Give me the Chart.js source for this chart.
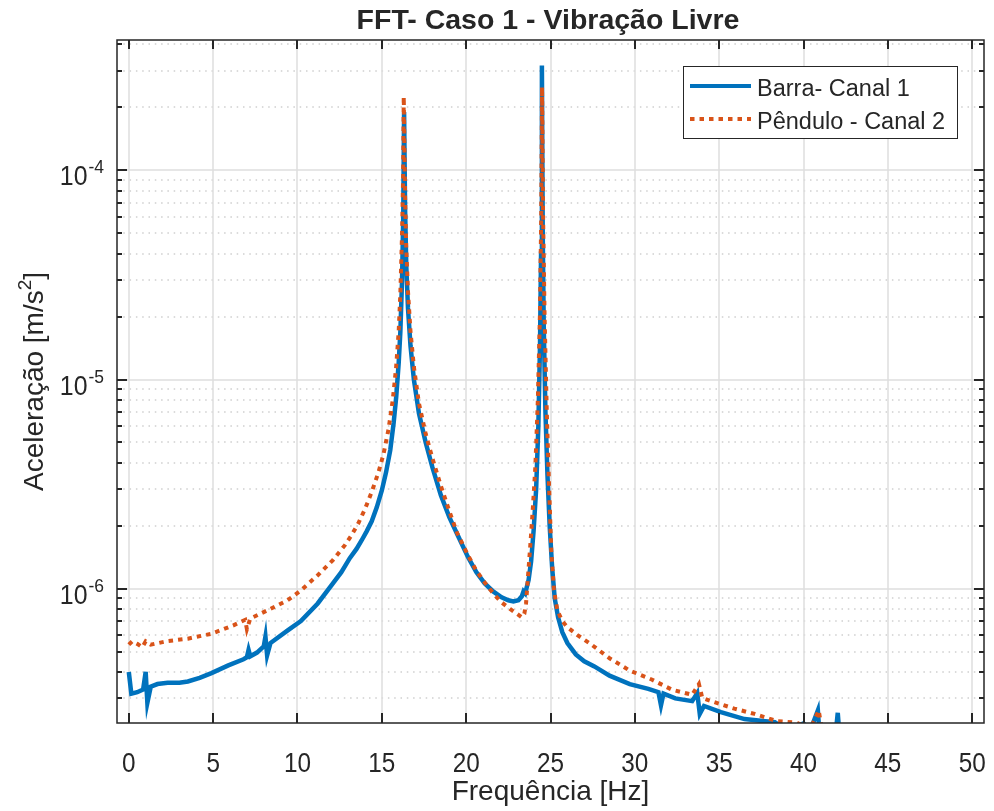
<!DOCTYPE html>
<html>
<head>
<meta charset="utf-8">
<script src="https://cdn.jsdelivr.net/npm/chart.js@4.4.0/dist/chart.umd.min.js"></script>
<style>
  html, body { margin: 0; padding: 0; background: #ffffff; }
  #wrap { width: 994px; height: 811px; position: relative; }
</style>
</head>
<body>
<div id="wrap"><canvas id="fftChart"></canvas></div>
<script>
const chartTitle = "FFT- Caso 1 - Vibração Livre";
const xTitle = "Frequência [Hz]";
const seriesLabels = ["Barra- Canal 1", "Pêndulo - Canal 2"];

const barraFreq = [
  0.0, 0.15, 0.5, 0.85, 1.0, 1.1, 1.3, 1.7, 2.3, 3.0, 3.5, 4.2, 4.9, 5.9, 6.8, 7.0, 7.1, 7.2, 7.6, 8.0,
  8.1, 8.2, 8.4, 9.4, 10.2, 11.2, 12.1, 12.6, 13.1, 13.5, 13.8, 14.1, 14.4, 14.7, 15.0, 15.25, 15.5, 15.7,
  15.85, 16.0, 16.1, 16.2, 16.27, 16.32, 16.38, 16.45, 16.55, 16.7, 16.9, 17.2, 17.6, 18.0, 18.5, 19.0,
  19.5, 20.1, 20.6, 21.1, 21.6, 22.1, 22.5, 22.8, 23.1, 23.3, 23.4, 23.5, 23.7, 23.85, 24.0, 24.15, 24.28,
  24.38, 24.44, 24.49, 24.54, 24.6, 24.7, 24.82, 24.95, 25.1, 25.25, 25.45, 25.7, 26.0, 26.5, 27.0, 27.6,
  28.5, 29.7, 30.8, 31.4, 31.55, 31.7, 32.4, 33.4, 33.7, 33.85, 34.1, 35.1, 36.5, 37.6, 38.3, 38.8, 39.6,
  40.0, 40.4, 40.85, 40.95, 41.9, 42.03, 42.15, 43.0
];
const barraAmp = [
  4.0e-7, 3.15e-7, 3.2e-7, 3.3e-7, 4.0e-7, 2.85e-7, 3.4e-7, 3.5e-7, 3.55e-7, 3.55e-7, 3.6e-7, 3.75e-7, 3.95e-7,
  4.3e-7, 4.6e-7, 4.7e-7, 5.1e-7, 4.75e-7, 4.95e-7, 5.3e-7, 5.9e-7, 4.8e-7, 5.5e-7, 6.3e-7, 7.0e-7, 8.5e-7,
  1.06e-6, 1.2e-6, 1.4e-6, 1.55e-6, 1.7e-6, 1.88e-6, 2.1e-6, 2.45e-6, 2.95e-6, 3.6e-6, 4.6e-6, 6.2e-6,
  8.2e-6, 1.2e-5, 1.7e-5, 3.0e-5, 6.0e-5, 1.9e-4, 6.5e-5, 3.5e-5, 2.2e-5, 1.45e-5, 1.0e-5, 6.9e-6, 5.0e-6,
  3.8e-6, 2.8e-6, 2.2e-6, 1.8e-6, 1.42e-6, 1.2e-6, 1.06e-6, 9.7e-7, 9.1e-7, 8.8e-7, 8.7e-7, 8.8e-7, 9.2e-7,
  9.7e-7, 9.5e-7, 1.1e-6, 1.35e-6, 1.9e-6, 3.0e-6, 6.0e-6, 1.5e-5, 4.0e-5, 3.17e-4, 5.0e-5, 1.8e-5, 7.0e-6,
  3.5e-6, 2.0e-6, 1.25e-6, 9.0e-7, 7.3e-7, 6.2e-7, 5.5e-7, 4.85e-7, 4.5e-7, 4.25e-7, 3.84e-7, 3.5e-7,
  3.32e-7, 3.2e-7, 2.77e-7, 3.15e-7, 2.99e-7, 2.9e-7, 3.17e-7, 2.52e-7, 2.75e-7, 2.57e-7, 2.38e-7, 2.33e-7,
  2.3e-7, 2.16e-7, 2.2e-7, 2.27e-7, 2.1e-7, 2.62e-7, 2.0e-7, 2.0e-7, 2.55e-7, 1.9e-7, 1.8e-7
];

const penduloFreq = [
  0.0, 0.2, 0.5, 0.8, 1.0, 1.3, 2.3, 3.5, 4.9, 6.2, 6.9, 7.0, 7.2, 8.2, 9.4, 10.2, 11.2, 12.1, 12.8, 13.2,
  13.6, 14.0, 14.4, 14.8, 15.1, 15.4, 15.65, 15.85, 16.0, 16.1, 16.2, 16.26, 16.3, 16.38, 16.45, 16.55, 16.7,
  16.9, 17.2, 17.6, 18.0, 18.5, 19.0, 19.46, 20.1, 20.6, 21.1, 21.6, 22.1, 22.6, 23.0, 23.3, 23.45, 23.55,
  23.65, 23.8, 23.95, 24.1, 24.25, 24.37, 24.45, 24.5, 24.56, 24.65, 24.78, 24.92, 25.05, 25.2, 25.4, 25.7,
  26.0, 26.6, 27.3, 28.5, 29.7, 31.0, 32.2, 33.4, 33.8, 34.0, 34.7, 35.9, 37.1, 38.4, 39.6, 40.4, 40.9, 41.1,
  42.2
];
const penduloAmp = [
  5.4e-7, 5.6e-7, 5.45e-7, 5.25e-7, 5.6e-7, 5.4e-7, 5.62e-7, 5.77e-7, 6.09e-7, 6.68e-7, 7.1e-7, 6.4e-7, 7.2e-7,
  7.87e-7, 8.79e-7, 9.81e-7, 1.16e-6, 1.37e-6, 1.61e-6, 1.8e-6, 2.05e-6, 2.4e-6, 2.9e-6, 3.6e-6, 4.4e-6,
  5.8e-6, 8.0e-6, 1.15e-5, 1.7e-5, 2.6e-5, 5.0e-5, 9.0e-5, 2.25e-4, 7.5e-5, 4.2e-5, 2.65e-5, 1.7e-5, 1.15e-5,
  7.7e-6, 5.5e-6, 4.2e-6, 3.1e-6, 2.35e-6, 1.85e-6, 1.45e-6, 1.22e-6, 1.07e-6, 9.5e-7, 8.6e-7, 8.0e-7, 7.6e-7,
  7.3e-7, 7.6e-7, 8.5e-7, 1.1e-6, 1.6e-6, 2.4e-6, 3.8e-6, 8.0e-6, 2.0e-5, 6.0e-5, 2.5e-4, 6.0e-5, 2.0e-5,
  7.0e-6, 3.0e-6, 1.5e-6, 1.0e-6, 7.9e-7, 7.0e-7, 6.55e-7, 6.0e-7, 5.5e-7, 4.65e-7, 4.06e-7, 3.68e-7, 3.29e-7,
  3.11e-7, 3.5e-7, 3.0e-7, 2.87e-7, 2.67e-7, 2.52e-7, 2.33e-7, 2.29e-7, 2.13e-7, 2.62e-7, 2.1e-7, 2.1e-7
];

const xTicks = [0, 5, 10, 15, 20, 25, 30, 35, 40, 45, 50];
const yMajorTicks = [1e-6, 1e-5, 1e-4];
const yTickExponents = ["-6", "-5", "-4"];
const yMinorSteps = [2, 3, 4, 5, 6, 7, 8, 9];
const yDecades = [1e-7, 1e-6, 1e-5, 1e-4];

const xMin = -0.7;
const xMax = 50.7;
const yMin = 2.28e-7;
const yMax = 4.2e-4;

const axisColor = "#262626";
const blue = "#0072BD";
const orange = "#D95319";
const font = "'Liberation Sans', Arial, sans-serif";

function toPoints(freqs, amps) {
  return freqs.map((f, i) => ({ x: f, y: amps[i] }));
}

function minorTickValues() {
  const values = [];
  yDecades.forEach((d) => {
    yMinorSteps.forEach((m) => {
      const v = d * m;
      if (v >= yMin && v <= yMax) values.push(v);
    });
  });
  return values;
}

function drawNarrowText(ctx, text, x, y, align, squeeze) {
  ctx.save();
  ctx.translate(x, y);
  ctx.scale(squeeze, 1);
  ctx.textAlign = align;
  ctx.fillText(text, 0, 0);
  ctx.restore();
}

const matlabAxes = {
  id: "matlabAxes",
  beforeDatasetsDraw(chart) {
    const { ctx, chartArea: a, scales } = chart;
    const x = scales.x;
    const y = scales.y;
    ctx.save();

    // dotted minor grid
    ctx.strokeStyle = "#cfcfcf";
    ctx.lineWidth = 1.3;
    ctx.setLineDash([1.5, 4.8]);
    minorTickValues().forEach((v) => {
      const py = Math.round(y.getPixelForValue(v));
      ctx.beginPath();
      ctx.moveTo(a.left, py);
      ctx.lineTo(a.right, py);
      ctx.stroke();
    });

    // solid major grid
    ctx.setLineDash([]);
    ctx.strokeStyle = "#dedede";
    ctx.lineWidth = 1.5;
    yMajorTicks.forEach((v) => {
      const py = Math.round(y.getPixelForValue(v));
      ctx.beginPath();
      ctx.moveTo(a.left, py);
      ctx.lineTo(a.right, py);
      ctx.stroke();
    });
    xTicks.forEach((v) => {
      const px = Math.round(x.getPixelForValue(v));
      ctx.beginPath();
      ctx.moveTo(px, a.top);
      ctx.lineTo(px, a.bottom);
      ctx.stroke();
    });
    ctx.restore();
  },
  afterDatasetsDraw(chart) {
    const { ctx, chartArea: a, scales } = chart;
    const x = scales.x;
    const y = scales.y;
    ctx.save();

    // box
    ctx.strokeStyle = axisColor;
    ctx.lineWidth = 1.5;
    ctx.strokeRect(a.left, a.top, a.right - a.left, a.bottom - a.top);

    // x ticks (bottom and top, inward)
    ctx.lineWidth = 2;
    xTicks.forEach((v) => {
      const px = Math.round(x.getPixelForValue(v));
      ctx.beginPath();
      ctx.moveTo(px, a.bottom);
      ctx.lineTo(px, a.bottom - 10);
      ctx.moveTo(px, a.top);
      ctx.lineTo(px, a.top + 9);
      ctx.stroke();
    });

    // y ticks (left and right, inward)
    yMajorTicks.forEach((v) => {
      const py = Math.round(y.getPixelForValue(v));
      ctx.beginPath();
      ctx.moveTo(a.left, py);
      ctx.lineTo(a.left + 10, py);
      ctx.moveTo(a.right, py);
      ctx.lineTo(a.right - 10, py);
      ctx.stroke();
    });
    minorTickValues().forEach((v) => {
      const py = Math.round(y.getPixelForValue(v));
      ctx.beginPath();
      ctx.moveTo(a.left, py);
      ctx.lineTo(a.left + 5, py);
      ctx.moveTo(a.right, py);
      ctx.lineTo(a.right - 5, py);
      ctx.stroke();
    });

    ctx.fillStyle = axisColor;
    ctx.textBaseline = "alphabetic";

    // x tick labels
    ctx.font = "27px " + font;
    xTicks.forEach((v) => {
      const px = x.getPixelForValue(v);
      drawNarrowText(ctx, String(v), px, a.bottom + 49, "center", 0.9);
    });

    // y tick labels 10^n
    yMajorTicks.forEach((v, i) => {
      const py = y.getPixelForValue(v);
      const expRight = a.left - 13;
      ctx.font = "19px " + font;
      ctx.textAlign = "right";
      const expWidth = ctx.measureText(yTickExponents[i]).width * 0.92;
      drawNarrowText(ctx, yTickExponents[i], expRight, py + 3, "right", 0.92);
      ctx.font = "27px " + font;
      drawNarrowText(ctx, "10", expRight - expWidth - 1, py + 15, "right", 0.92);
    });

    // x axis title
    ctx.font = "28px " + font;
    drawNarrowText(ctx, xTitle, (a.left + a.right) / 2, 800, "center", 1.0);

    // y axis title with superscript
    ctx.save();
    ctx.translate(43, (a.top + a.bottom) / 2);
    ctx.rotate(-Math.PI / 2);
    const mainPart = "Aceleração [m/s";
    ctx.font = "28px " + font;
    const w1 = ctx.measureText(mainPart).width;
    ctx.font = "19px " + font;
    const w2 = ctx.measureText("2").width;
    ctx.font = "28px " + font;
    const w3 = ctx.measureText("]").width;
    const start = -(w1 + w2 + w3) / 2;
    ctx.textAlign = "left";
    ctx.fillText(mainPart, start, 0);
    ctx.font = "19px " + font;
    ctx.fillText("2", start + w1, -12);
    ctx.font = "28px " + font;
    ctx.fillText("]", start + w1 + w2, 0);
    ctx.restore();

    // title
    ctx.font = "bold 28.5px " + font;
    ctx.textAlign = "center";
    ctx.fillText(chartTitle, 548, 29);

    // legend
    const lx = 683.5, ly = 66.5, lw = 274, lh = 72;
    ctx.fillStyle = "#ffffff";
    ctx.fillRect(lx, ly, lw, lh);
    ctx.strokeStyle = axisColor;
    ctx.lineWidth = 1;
    ctx.strokeRect(lx, ly, lw, lh);
    const rows = [
      { label: seriesLabels[0], color: blue, dash: [], cy: 86 },
      { label: seriesLabels[1], color: orange, dash: [4.5, 5], cy: 119 }
    ];
    rows.forEach((r) => {
      ctx.strokeStyle = r.color;
      ctx.lineWidth = 4;
      ctx.setLineDash(r.dash);
      ctx.beginPath();
      ctx.moveTo(690, r.cy);
      ctx.lineTo(751, r.cy);
      ctx.stroke();
      ctx.setLineDash([]);
      ctx.fillStyle = axisColor;
      ctx.font = "23.5px " + font;
      ctx.textAlign = "left";
      ctx.fillText(r.label, 757, r.cy + 9.5);
    });

    ctx.restore();
  }
};

const ctx = document.getElementById("fftChart").getContext("2d");
const fftChart = new Chart(ctx, {
  type: "line",
  data: {
    datasets: [
      {
        label: seriesLabels[0],
        data: toPoints(barraFreq, barraAmp),
        borderColor: blue,
        borderWidth: 4.5,
        pointRadius: 0,
        tension: 0,
        fill: false,
        order: 2
      },
      {
        label: seriesLabels[1],
        data: toPoints(penduloFreq, penduloAmp),
        borderColor: orange,
        borderWidth: 4,
        borderDash: [4.5, 5],
        pointRadius: 0,
        tension: 0,
        fill: false,
        order: 1
      }
    ]
  },
  options: {
    responsive: true,
    maintainAspectRatio: false,
    animation: false,
    layout: { padding: { left: 117, top: 40, right: 10, bottom: 88 } },
    plugins: {
      legend: { display: false },
      tooltip: { enabled: false }
    },
    scales: {
      x: { type: "linear", min: xMin, max: xMax, bounds: "data", display: false },
      y: { type: "logarithmic", min: yMin, max: yMax, bounds: "data", display: false }
    }
  },
  plugins: [matlabAxes]
});
</script>
</body>
</html>
